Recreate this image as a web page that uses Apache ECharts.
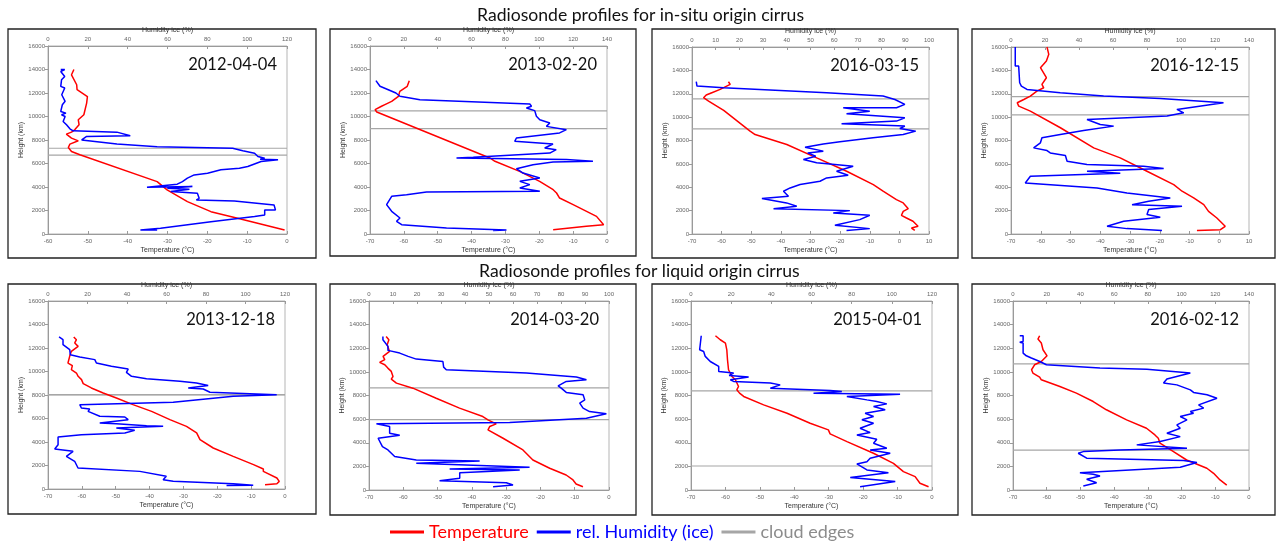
<!DOCTYPE html>
<html><head><meta charset="utf-8">
<script src="https://cdn.jsdelivr.net/npm/echarts@6/dist/echarts.min.js"></script>
<style>html,body{margin:0;padding:0;background:#fff}#c{width:1276px;height:544px}</style>
</head><body><div id="c"></div><script>
// ---------- DATA ----------
const dates = ['2012-04-04','2013-02-20','2016-03-15','2016-12-15','2013-12-18','2014-03-20','2015-04-01','2016-02-12'];
const rowTitles = ['Radiosonde profiles for in-situ origin cirrus','Radiosonde profiles for liquid origin cirrus'];
const tempMin = [-60,-70,-70,-70,-70,-70,-70,-70];
const tempMax = [0,0,10,10,0,0,0,0];
const humMax = [120,140,100,140,120,100,120,140];
const humStep = [20,20,10,20,20,10,20,20];
const tempStep = 10, heightMax = 16000, heightStep = 2000;

// [temperature °C, height m]
const temp1 = [[-53.5,14000],[-54.1,13550],[-52.8,12700],[-52.7,12280],[-50.1,11700],[-50.3,11140],[-51,10150],[-52.4,9720],[-52.2,9300],[-53.3,8870],[-54.1,8670],[-55.4,8500],[-54.1,8160],[-52.4,7930],[-54.5,7650],[-54.9,7360],[-54.1,7020],[-52,6740],[-32.6,4460],[-30.1,3750],[-25,2760],[-19.1,1900],[-12.4,1340],[-0.6,340]];
const temp2 = [[-58.4,13050],[-59,12570],[-61.2,12140],[-61.6,11720],[-63.6,11290],[-65.6,11010],[-66.6,10870],[-68.5,10580],[-68,10380],[-34.6,6470],[-33.1,6190],[-25.8,5330],[-19.9,4480],[-15.9,3770],[-14.9,3490],[-14,3060],[-10,2500],[-3.1,1500],[-1,790],[-6.1,650],[-15.9,370]];
const temp3 = [[-57.7,13030],[-57.1,12800],[-60.5,12370],[-63.3,12090],[-65.2,11890],[-66.1,11660],[-64.4,11370],[-59.3,10570],[-50.4,8800],[-48.7,8510],[-38,7660],[-27.9,6510],[-17.8,5370],[-8.8,4230],[-5.5,3660],[-1,2940],[1.3,2660],[3,2170],[1.3,1940],[0.7,1600],[2.4,1370],[4.6,1090],[6.3,660],[4.1,510],[5.2,310]];
const temp4 = [[-57.9,16000],[-57.3,15370],[-58.1,14800],[-60.1,14230],[-58.1,13370],[-59.6,12800],[-59,12510],[-61.3,12230],[-63.5,11800],[-65.7,11510],[-67.9,11230],[-67.4,10940],[-63.5,10510],[-53.4,9090],[-42.2,7370],[-33.3,6510],[-24.3,5370],[-15.3,4230],[-12.5,3660],[-8.6,3090],[-5.2,2510],[-3.6,1940],[-0.8,1370],[2,660],[0.4,370],[-7.5,290]];
const temp5 = [[-62.4,12940],[-61.6,12710],[-62.1,12430],[-61.1,12140],[-63.1,11720],[-63.6,11290],[-64.1,10720],[-62.8,10500],[-63.1,10160],[-61.6,9870],[-61.1,9590],[-60.1,9310],[-59.6,8970],[-57.2,8600],[-53.7,8170],[-49.8,7750],[-44.9,7180],[-39.4,6610],[-34,5900],[-29.1,5330],[-26.1,4770],[-25.1,4200],[-21.2,3490],[-15.3,2780],[-9.3,2070],[-6.4,1700],[-6.4,1500],[-2.4,940],[-1.7,650],[-2.4,450],[-5.9,370]];
const temp6 = [[-65,13000],[-64.2,12720],[-64.7,12300],[-64,11730],[-65.9,11310],[-65.4,11030],[-66.9,10800],[-65.4,10600],[-64.5,10320],[-63.5,10040],[-63,9610],[-63.5,9390],[-62,9050],[-57.2,8620],[-50.4,7770],[-43.6,6930],[-36.8,6220],[-35.3,5940],[-32.9,5600],[-34.8,5370],[-35.3,5090],[-30.9,4380],[-25.1,3390],[-22.2,2540],[-17.3,1840],[-12.5,1270],[-10.5,850],[-9.6,510],[-7.6,280]];
const temp7 = [[-62.9,13060],[-61.5,12720],[-60,12440],[-59.6,11870],[-59.4,11030],[-59.1,10180],[-58.1,9610],[-57.1,9330],[-56.2,8760],[-56.7,8480],[-55.9,8200],[-54.7,7920],[-48.9,7210],[-42.1,6500],[-35.4,5650],[-30.1,5090],[-29.6,4750],[-24.7,4100],[-17,3110],[-11.2,2260],[-8.3,1560],[-4.9,1130],[-3.5,570],[-1,280]];
const temp8 = [[-62.1,13060],[-62.6,12780],[-61.6,12440],[-61.1,11870],[-59.9,11360],[-61.6,10880],[-63.6,10600],[-64.5,10180],[-64.1,9900],[-62.1,9560],[-61.6,9330],[-56.1,8760],[-51.2,8200],[-46.2,7490],[-42.3,6790],[-36.3,5940],[-30.4,5230],[-27.9,4660],[-26.9,4380],[-26.4,3960],[-22.4,3250],[-18.5,2540],[-12.5,1840],[-10.5,1410],[-8.6,850],[-6.6,420]];

// [relative humidity over ice %, height m]
const hum1 = [[6.4,14000],[8.4,13990],[6.4,13830],[8.4,13400],[9.3,13270],[6.8,13120],[6.4,12560],[8.4,12420],[6.9,11850],[8.6,11290],[7.2,11000],[6.4,10430],[9,10290],[6.8,10150],[8.6,10000],[7.6,9580],[9.3,9290],[10.1,9150],[11,8950],[12.6,8780],[34.6,8670],[41.3,8360],[19.4,8300],[16.9,8010],[17.7,7870],[34.6,7650],[54.8,7420],[92.7,7300],[93.6,7130],[97.8,7080],[103.7,6880],[105.4,6590],[108.8,6450],[106.5,6370],[115.5,6310],[107,6170],[100.3,5740],[96.1,5600],[86.8,5460],[80.1,5170],[73.4,5030],[70,4750],[67.5,4460],[64.9,4240],[49.7,3980],[72.5,4040],[59.9,3890],[71,3810],[61.6,3610],[75,3470],[75.9,3040],[74.5,2900],[93.6,2810],[113.5,2470],[114.2,2050],[108.8,2050],[108.8,1620],[103.7,1480],[81.8,1050],[56.5,480],[46.4,340],[54.8,340]];
const hum2 = [[3.5,13050],[5.9,12570],[10.8,12280],[15.3,12000],[17.7,11720],[29.5,11430],[94.4,11060],[95.4,10870],[92.4,10720],[97.3,10500],[98.3,10020],[100.3,9730],[106.2,9450],[104.2,9160],[116,8880],[112,8600],[86.5,8170],[85.5,7890],[108.1,7660],[103.2,7320],[110,7180],[106.2,6890],[61,6530],[51.1,6470],[116,6330],[131.7,6190],[108.1,6130],[96.3,5900],[86.5,5560],[90.4,5190],[100.3,4770],[88.5,4480],[94.4,4200],[88.5,3920],[100.3,3630],[33.4,3580],[21.6,3350],[12.8,3210],[9.8,2500],[12.8,1930],[17.7,1360],[15.7,1080],[18.7,790],[45.2,510],[80.6,340],[72.7,300]];
const hum3 = [[1.8,13030],[2.1,12660],[13.3,12510],[56.8,12090],[80.6,11800],[85.6,11510],[89.8,11090],[86.3,10800],[63.8,10800],[75,10510],[65.2,10290],[89.8,9940],[86.3,9660],[63.1,9430],[89.8,9230],[87.7,9030],[94.4,8800],[89.1,8510],[76.4,8230],[62.4,7890],[55.4,7710],[47.7,7430],[55.4,7090],[48.8,6940],[52.2,6660],[47,6370],[52.6,6090],[68,5800],[61,5370],[65.9,5030],[56.8,4800],[54,4510],[45.6,4230],[41.4,3940],[38.6,3660],[40.7,3230],[29.5,3030],[39.9,2660],[44.2,2370],[34.4,2170],[66.6,2000],[59.6,1800],[75,1600],[70.8,1230],[60.3,740],[75,460],[65.2,290]];
const hum4 = [[2.5,16000],[2.5,14370],[4.5,14370],[5.1,12940],[6.1,12660],[9.4,12370],[29,12090],[54.5,11800],[87.8,11600],[125,11230],[97.6,10660],[101.6,10370],[91.8,10090],[44.7,9800],[52.5,9370],[60.4,9230],[42.7,8860],[29,8510],[18.2,8230],[17.3,7800],[13.3,7370],[21.2,7140],[23.1,6940],[32,6710],[33,6230],[44.7,5940],[78,5800],[89.8,5600],[44.7,5370],[64.3,5200],[11.4,4940],[8.4,4370],[50.6,3940],[68.2,3510],[93.7,3090],[81,2800],[71.2,2510],[100.6,2370],[81,2090],[80,1660],[87.8,1430],[66.3,1090],[56.5,660],[68.2,460],[88.8,310]];
const hum5 = [[5.6,12940],[7.6,12710],[7.6,12280],[11,11860],[11.3,11430],[16.1,11240],[23.7,11010],[24.5,10720],[32.1,10440],[40.6,10210],[39.7,9930],[42.3,9590],[49.9,9390],[66.8,9160],[75.2,9020],[81.1,8800],[71,8600],[78.6,8510],[82,8230],[115.8,8030],[93.8,7890],[63.4,7380],[16.1,7180],[16.9,6890],[21.1,6800],[20.3,6610],[26.2,6190],[38.9,6130],[40.6,5900],[26.2,5620],[34.6,5560],[49.9,5390],[58.3,5330],[34.6,5190],[43.9,4990],[38.9,4770],[16.9,4620],[5.1,4430],[5.1,3770],[3.4,3400],[12.7,3210],[9.3,2780],[13.5,2360],[15.2,1790],[16.1,1650],[46.5,1500],[59.9,1080],[58.3,790],[63.4,650],[93.8,450],[103.9,310],[90.4,290]];
const hum6 = [[5.8,13000],[5.8,12720],[7.9,12160],[7.9,11820],[12.8,11590],[16.3,11310],[19.7,11080],[30.8,10880],[31.1,10400],[32.2,10180],[65.6,9900],[86.4,9560],[90.6,9330],[82.2,9190],[78.8,8820],[80.1,8620],[82.2,8260],[89.2,8060],[89.9,7630],[87.8,7350],[89.2,6930],[91.9,6640],[98.9,6450],[90.6,6080],[58.6,5710],[3.1,5600],[8.6,5370],[8.6,4810],[12.8,4640],[3.8,4380],[5.6,3680],[7.9,3390],[10.7,2830],[19.7,2540],[46.1,2460],[19.7,2260],[66.9,1920],[33.6,1780],[62.8,1700],[37.8,1470],[37.8,990],[29.4,790],[57.2,620],[60,420],[51.7,280]];
const hum7 = [[5.1,13060],[4.3,11870],[6.3,11730],[7.1,11310],[9.6,10880],[13.8,10460],[13.8,10040],[21.2,9900],[19,9700],[28.7,9560],[19.6,9330],[21.2,9190],[39.5,9050],[44.4,8900],[39.5,8620],[69.3,8420],[75.1,8340],[61,8200],[104.1,8110],[77.6,7920],[87.6,7630],[92.5,7490],[97.5,7290],[90.9,7070],[96.7,6790],[86.7,6500],[90.9,6220],[85.1,5940],[90.9,5650],[84.2,5230],[89.2,4860],[82.6,4660],[92.5,4300],[90.9,3960],[97.5,3530],[89.2,3390],[99.2,3110],[89.2,2690],[87.6,2400],[82.6,2210],[87.6,1700],[98.3,1470],[79.3,1050],[101.7,710],[84.2,280]];
const hum8 = [[4,13060],[6,13060],[6,12580],[4,12500],[6,12450],[6,11590],[7.9,11360],[10.9,11170],[15.9,10880],[19.8,10600],[51.6,10320],[79.4,10230],[105.2,9900],[91.3,9390],[89.3,9050],[97.2,8900],[105.2,8480],[107.1,8260],[115.1,8060],[121,7770],[110.1,7210],[113.1,6930],[105.2,6640],[107.1,6500],[99.2,6220],[103.2,5940],[97.2,5510],[99.2,5230],[91.3,4810],[99.2,4520],[87.3,4100],[73.4,3820],[103.2,3530],[63.5,3390],[41.7,3250],[38.7,3110],[37.7,2970],[43.7,2690],[101.2,2490],[109.1,2320],[99.2,1920],[39.7,1470],[47.6,1330],[51.6,1190],[43.7,910],[49.6,620],[41.7,340]];

// cloud edge heights (m)
const edges1 = [7300, 6720];
const edges2 = [10480, 8960];
const edges3 = [11570, 9000];
const edges4 = [11750, 10200];
const edges5 = [8000, 8030];
const edges6 = [8640, 5960];
const edges7 = [8400, 2030];
const edges8 = [10680, 3380];

const temps = [temp1,temp2,temp3,temp4,temp5,temp6,temp7,temp8];
const hums = [hum1,hum2,hum3,hum4,hum5,hum6,hum7,hum8];
const edges = [edges1,edges2,edges3,edges4,edges5,edges6,edges7,edges8];

// ---------- LAYOUT ----------
const plotBox = [[48,46,239,188],[370,46,237,188],[692,47,237,187],[1011,47,238,187],
                 [48,301,237,188],[369,301,240,189],[691,301,241,189],[1013,301,236,189]];
const frameBox = [[8,29,308,229],[330,29,306,227],[652,29,306,229],[972,29,303,229],
                  [8,284,308,230],[330,284,306,231],[652,284,306,231],[972,284,303,231]];
const RED = '#ff0000', BLUE = '#0000ff', GRAY = '#a6a6a6';
const TXT = 'Lato, "Open Sans", sans-serif';
const AX = '"Liberation Sans", Arial, sans-serif';

const grid = [], xAxis = [], yAxis = [], series = [], title = [], graphic = [];
function axisStyle(tickInside) {
  return {
    axisLine: {show: true, onZero: false, lineStyle: {color: '#9a9a9a', width: 1}},
    axisTick: {show: true, inside: tickInside, length: 3, lineStyle: {color: '#9a9a9a'}},
    splitLine: {show: false},
    axisLabel: {fontSize: 6, color: '#666', fontFamily: AX, margin: 4},
    nameTextStyle: {fontSize: 7, color: '#333', fontFamily: AX}
  };
}
for (let i = 0; i < 8; i++) {
  const [l, t, w, h] = plotBox[i];
  grid.push({left: l, top: t, width: w, height: h, show: true, borderColor: '#b5b5b5', borderWidth: 1});
  xAxis.push(Object.assign(axisStyle(true), {gridIndex: i, type: 'value', position: 'bottom',
    min: tempMin[i], max: tempMax[i], interval: tempStep,
    name: 'Temperature (°C)', nameLocation: 'middle', nameGap: 13}));
  xAxis.push(Object.assign(axisStyle(true), {gridIndex: i, type: 'value', position: 'top',
    min: 0, max: humMax[i], interval: humStep[i],
    name: 'Humidity ice (%)', nameLocation: 'middle', nameGap: 12}));
  const ya = Object.assign(axisStyle(false), {gridIndex: i, type: 'value',
    min: 0, max: heightMax, interval: heightStep,
    name: 'Height (km)', nameLocation: 'middle', nameGap: 22});
  ya.axisLabel.formatter = v => String(v);
  ya.axisLabel.margin = 3;
  yAxis.push(ya);
  edges[i].forEach(hv => series.push({type: 'line', name: 'cloud edges', xAxisIndex: 2*i, yAxisIndex: i,
    data: [[tempMin[i], hv], [tempMax[i], hv]], symbol: 'none', silent: true, z: 1,
    lineStyle: {color: GRAY, width: 1.2}, itemStyle: {color: GRAY}}));
  series.push({type: 'line', name: 'Temperature', xAxisIndex: 2*i, yAxisIndex: i, data: temps[i],
    symbol: 'none', z: 3, lineStyle: {color: RED, width: 1.5}, itemStyle: {color: RED}});
  series.push({type: 'line', name: 'rel. Humidity (ice)', xAxisIndex: 2*i+1, yAxisIndex: i, data: hums[i],
    symbol: 'none', z: 4, lineStyle: {color: BLUE, width: 1.5}, itemStyle: {color: BLUE}});
  title.push({text: dates[i], padding: 0, right: 1276 - (l + w - 10), top: t + 10,
    textStyle: {fontSize: 16.5, fontWeight: 'normal', color: '#111', fontFamily: TXT}});
  const [fx, fy, fw, fh] = frameBox[i];
  graphic.push({type: 'rect', shape: {x: fx, y: fy, width: fw, height: fh}, silent: true,
    style: {fill: 'none', stroke: '#222', lineWidth: 1.3}});
}
title.push({text: rowTitles[0], padding: 0, left: 477, top: 6, textStyle: {fontSize: 17.6, fontWeight: 'normal', color: '#111', fontFamily: TXT}});
title.push({text: rowTitles[1], padding: 0, left: 479, top: 262, textStyle: {fontSize: 17.6, fontWeight: 'normal', color: '#111', fontFamily: TXT}});

const chart = echarts.init(document.getElementById('c'), null, {renderer: 'canvas'});
chart.setOption({
  animation: false,
  backgroundColor: '#fff',
  title, grid, xAxis, yAxis, series, graphic,
  legend: {left: 390, top: 523, padding: 0, icon: 'rect', itemWidth: 34, itemHeight: 3, itemGap: 8,
    textStyle: {fontSize: 18, fontFamily: TXT},
    data: [{name: 'Temperature', textStyle: {color: RED}},
           {name: 'rel. Humidity (ice)', textStyle: {color: BLUE}},
           {name: 'cloud edges', textStyle: {color: '#8c8c8c'}}]}
});
</script></body></html>
